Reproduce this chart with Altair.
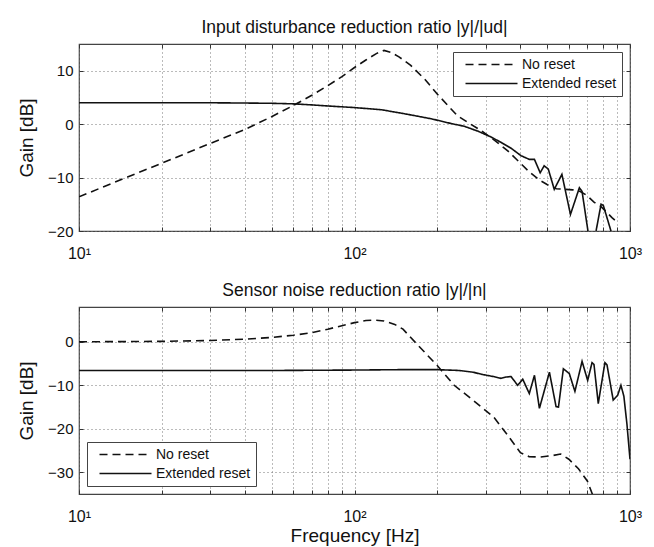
import altair as alt
import pandas as pd

# ---------------- data ----------------
# Top panel: Input disturbance reduction ratio
top_noreset_freq = [10, 15, 20, 30, 40, 50, 60, 70, 80, 90, 100, 110, 120, 128, 136, 145, 160,
                    180, 200, 236, 260, 288, 320, 360, 400, 430, 470, 500, 540, 580, 620,
                    660, 700, 740, 780, 820, 860, 905]
top_noreset_gain = [-13.6, -9.9, -7.3, -3.6, -1.0, 1.4, 3.5, 5.4, 7.2, 8.9, 10.6, 12.0, 13.2, 13.8,
                    13.4, 12.6, 11.0, 8.4, 5.6, 1.6, 0.2, -1.2, -2.9, -5.0, -7.3, -8.9, -10.5,
                    -11.3, -12.1, -12.2, -12.3, -12.6, -13.4, -14.6, -15.3, -16.4, -17.5, -18.5]

top_ext_freq = [10, 20, 30, 40, 50, 60, 70, 80, 100, 125, 150, 190, 225, 250, 280, 313, 340,
                370, 402, 431, 450, 472, 488, 505, 531, 566, 608, 655, 670, 706, 730,
                753, 785, 800, 853, 875]
top_ext_gain = [4.0, 4.0, 4.0, 3.95, 3.9, 3.8, 3.6, 3.4, 3.1, 2.7, 2.0, 1.0, 0.1, -0.4, -1.3,
                -2.4, -3.4, -4.5, -5.9, -6.6, -6.6, -9.1, -7.8, -8.4, -12.2, -9.4, -16.9,
                -11.9, -12.6, -20.5, -23.0, -20.0, -15.0, -15.2, -20.0, -23.0]

# Bottom panel: Sensor noise reduction ratio
bot_noreset_freq = [10, 15, 20, 30, 40, 50, 60, 70, 80, 90, 100, 110, 118, 128, 140, 150, 170,
                    200, 230, 270, 320, 360, 400, 430, 470, 520, 560, 600, 650, 700, 740]
bot_noreset_gain = [0.0, 0.05, 0.1, 0.3, 0.6, 1.0, 1.5, 2.1, 2.9, 3.7, 4.4, 4.9, 5.0, 4.8, 4.0,
                    2.9, -0.8, -5.5, -10.0, -13.5, -17.3, -21.5, -25.5, -26.4, -26.5, -26.2,
                    -25.8, -27.0, -29.2, -32.0, -36.0]

bot_ext_freq = [10, 50, 100, 150, 200, 240, 270, 290, 320, 340, 355, 370, 391, 408, 431, 450,
                469, 510, 539, 550, 573, 602, 631, 670, 702, 728, 740, 767, 811, 825, 869,
                902, 927, 950, 975, 1000]
bot_ext_gain = [-6.6, -6.6, -6.5, -6.4, -6.4, -6.6, -7.0, -7.5, -8.0, -8.4, -8.1, -8.0, -10.0,
                -8.6, -11.9, -7.7, -15.3, -7.0, -14.9, -15.0, -6.2, -7.3, -11.4, -4.5, -8.9,
                -4.8, -5.2, -14.2, -4.8, -5.3, -13.4, -12.3, -10.0, -12.5, -19.0, -27.0]

series_names = ["No reset", "Extended reset"]
grid_freqs = [10, 20, 30, 40, 50, 60, 70, 80, 90, 100, 200, 300, 400, 500, 600, 700, 800, 900, 1000]

FONT = "Liberation Sans"
INK = "#111"


def make_df(fn, gn, fe, ge):
    a = pd.DataFrame({"f": fn, "g": gn, "s": series_names[0]})
    b = pd.DataFrame({"f": fe, "g": ge, "s": series_names[1]})
    return pd.concat([a, b], ignore_index=True)


def tick_axis(values, orient):
    # label-less axis moved inside the frame so its ticks point inward (Matlab style)
    return alt.Axis(values=values, orient=orient, labels=False, ticks=True, tickSize=4,
                    tickColor="#333", tickWidth=1, offset=-4, domain=False, grid=False,
                    title=None)


def panel(df, title, ydomain, yticks, legend_orient, xtitle):
    xscale = alt.Scale(type="log", domain=[10, 1000], nice=False)
    yscale = alt.Scale(domain=ydomain, nice=False, zero=False)
    xaxis = alt.Axis(
        values=grid_freqs, orient="bottom",
        labelExpr="datum.value == 10 ? '10¹' : datum.value == 100 ? '10²' : datum.value == 1000 ? '10³' : ''",
        grid=True, gridDash=[1, 3], gridColor="#777", gridWidth=1,
        ticks=False, domain=False, labelFlush=False, labelOverlap=False,
        labelFontSize=16, labelPadding=14, labelColor=INK, labelFont=FONT,
        titleFontSize=19, titleFont=FONT, titleFontWeight="normal", titleColor=INK,
        titlePadding=2,
    )
    if xtitle:
        xenc = alt.X("f:Q", title=xtitle, scale=xscale, axis=xaxis)
    else:
        xenc = alt.X("f:Q", title=None, scale=xscale, axis=xaxis)
    yaxis = alt.Axis(
        values=yticks, orient="left", grid=True, gridDash=[1, 3], gridColor="#777", gridWidth=1,
        ticks=False, domain=False, labelFontSize=15, labelPadding=6, labelColor=INK,
        labelFont=FONT, labelExpr="replace(datum.label, '-', '−')",
        title="Gain [dB]", titleFontSize=19, titleFont=FONT,
        titleFontWeight="normal", titleColor=INK, titlePadding=11,
    )
    lines = alt.Chart(df).mark_line(clip=True, color=INK, strokeWidth=1.6).encode(
        x=xenc,
        y=alt.Y("g:Q", scale=yscale, axis=yaxis),
        strokeDash=alt.StrokeDash(
            "s:N",
            scale=alt.Scale(domain=series_names, range=[[8, 5], [1, 0]]),
            legend=alt.Legend(
                title=None, orient=legend_orient, offset=8, fillColor="white",
                strokeColor="#444", padding=5, symbolType="M0,0H8", symbolSize=169,
                symbolStrokeWidth=1.6, symbolStrokeColor=INK, labelFontSize=14,
                labelFont=FONT, labelColor=INK, rowPadding=4, labelOffset=49,
            ),
        ),
    )
    ticks_tr = alt.Chart(df).mark_line(opacity=0, clip=True).encode(
        x=alt.X("f:Q", scale=xscale, axis=tick_axis(grid_freqs, "top")),
        y=alt.Y("g:Q", scale=yscale, axis=tick_axis(yticks, "right")),
    )
    ticks_bl = alt.Chart(df).mark_line(opacity=0, clip=True).encode(
        x=alt.X("f:Q", scale=xscale, axis=tick_axis(grid_freqs, "bottom")),
        y=alt.Y("g:Q", scale=yscale, axis=tick_axis(yticks, "left")),
    )
    return alt.layer(lines, ticks_tr, ticks_bl).resolve_axis(
        x="independent", y="independent"
    ).properties(
        width=551, height=187,
        title=alt.TitleParams(title, fontSize=17.5, font=FONT, fontWeight="normal",
                              color=INK, anchor="middle", offset=7),
    )


top = panel(make_df(top_noreset_freq, top_noreset_gain, top_ext_freq, top_ext_gain),
            "Input disturbance reduction ratio |y|/|ud|", [-20, 15], [-20, -10, 0, 10],
            "top-right", None)
bottom = panel(make_df(bot_noreset_freq, bot_noreset_gain, bot_ext_freq, bot_ext_gain),
               "Sensor noise reduction ratio |y|/|n|", [-35, 8], [-30, -20, -10, 0],
               "bottom-left", "Frequency [Hz]")

chart = alt.vconcat(top, bottom, spacing=19).resolve_legend(strokeDash="independent").properties(
    padding={"left": 16, "top": 18, "right": 8, "bottom": 0},
    background="white",
).configure_view(stroke="#444", strokeWidth=1.2)

chart.save("out.html", embed_options={"renderer": "svg", "actions": False})
